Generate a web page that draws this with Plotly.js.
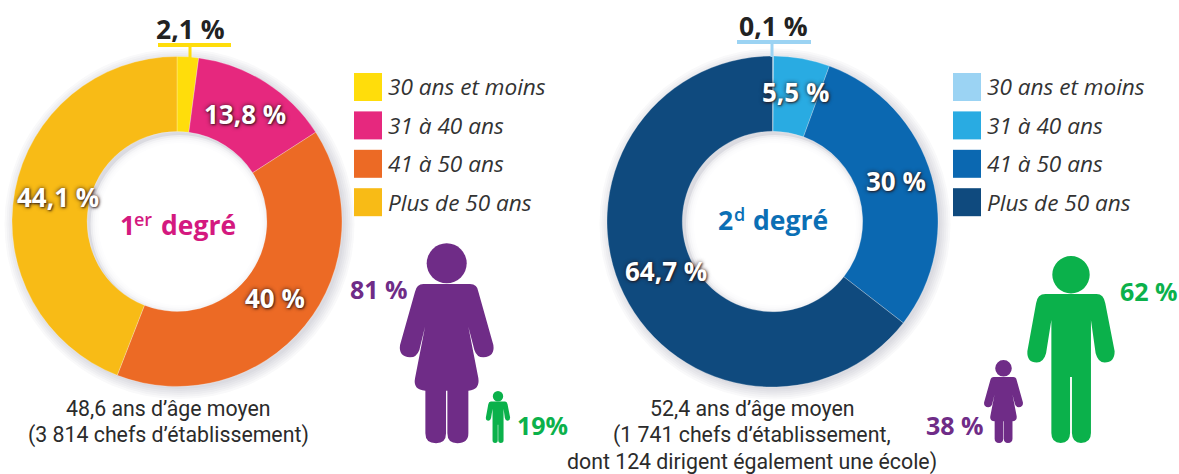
<!DOCTYPE html>
<html lang="fr">
<head>
<meta charset="utf-8">
<script src="https://cdn.plot.ly/plotly-3.0.1.min.js"></script>
<style>
html,body{margin:0;padding:0;background:#fff;overflow:hidden}
#chart{width:1179px;height:474px}
</style>
</head>
<body>
<div id="chart"></div>
<script>
const W = 1179, H = 474;
const ageGroups = ['30 ans et moins', '31 à 40 ans', '41 à 50 ans', 'Plus de 50 ans'];
const firstDegreeValues = [2.1, 13.8, 40, 44.1];
const secondDegreeValues = [0.1, 5.5, 30, 64.7];
const firstDegreeColors = ['#FFDD0B', '#E6287E', '#EC6A25', '#F8BB16'];
const secondDegreeColors = ['#9BD3F3', '#29ABE2', '#0B68B1', '#0F4A7E'];
const firstCaption = ['48,6 ans d’âge moyen', '(3 814 chefs d’établissement)'];
const secondCaption = ['52,4 ans d’âge moyen', '(1 741 chefs d’établissement,', 'dont 124 dirigent également une école)'];
const firstWomen = '81 %', firstMen = '19%';
const secondWomen = '38 %', secondMen = '62 %';
const PURPLE = '#6F2C87', GREEN = '#0BB14B';
const BOLD = '"Open Sans", "Noto Sans", sans-serif';
const TEXT = 'Roboto, "Noto Sans", sans-serif';

const fx = x => x / W;
const fy = y => 1 - y / H;
const pct = v => String(v).replace('.', ',') + ' %';

function pie(values, colors, left, top, size) {
  return {
    type: 'pie', values, labels: ageGroups, sort: false, direction: 'clockwise', rotation: 0,
    hole: 0.545, textinfo: 'none', hoverinfo: 'skip', showlegend: false,
    marker: {colors, line: {color: 'rgba(255,255,255,.5)', width: 0.5}},
    domain: {x: [fx(left), fx(left + size)], y: [fy(top + size), fy(top)]}
  };
}

const shapes = [], annotations = [];

function label(text, x, y, size, color, family, fontExtra, anchor) {
  annotations.push({
    text, x: fx(x), y: fy(y), xref: 'paper', yref: 'paper', showarrow: false,
    xanchor: anchor || 'center', yanchor: 'middle', borderpad: 0,
    font: Object.assign({size, color, family}, fontExtra || {})
  });
}
function rect(x0, y0, x1, y1, color) {
  shapes.push({type: 'rect', xref: 'paper', yref: 'paper', x0: fx(x0), x1: fx(x1), y0: fy(y1), y1: fy(y0),
    fillcolor: color, line: {width: 0}, layer: 'above'});
}
function disc(cx, cy, r, color) {
  shapes.push({type: 'circle', xref: 'paper', yref: 'paper',
    x0: fx(cx - r), x1: fx(cx + r), y0: fy(cy + r), y1: fy(cy - r),
    fillcolor: color, line: {width: 0}, layer: 'below'});
}
// Soft shadow of a ring: stacked translucent discs below the pie, cleared again inside the hole
function ringShadow(cx, cy, outer, inner) {
  [10, 8, 6, 4, 2, 0].forEach(d => disc(cx + 2.5, cy + 2.5, outer + d, 'rgba(50,40,55,.028)'));
  [0, 2, 4, 6].forEach(d => disc(cx + 2.5, cy + 2.5, inner - 1 - d, 'rgba(255,255,255,.5)'));
  disc(cx + 2.5, cy + 2.5, inner - 9, '#fff');
}

// Pictogram outlines, in the units of a figure 600 high, relative to the figure's axis
const womanOutline = [
 ['M',0,122],['L',70,122],['Q',92,122,95,145],['L',140,305],['Q',145,340,110,342],['Q',90,342,83,320],
 ['L',65,250],['L',95,405],['Q',100,440,65,442],['L',65,570],['Q',65,600,32,600],['Q',2,600,2,570],['L',2,442],
 ['L',-2,442],['L',-2,570],['Q',-2,600,-32,600],['Q',-64,600,-64,570],['L',-64,442],['Q',-102,440,-95,405],
 ['L',-65,250],['L',-82,320],['Q',-90,342,-110,342],['Q',-145,340,-140,305],['L',-95,145],['Q',-90,122,-70,122],['Z']
];
const manOutline = [
 ['M',-82,122],['L',82,122],['Q',105,122,110,152],['L',140,306],['Q',140,342,108,342],['Q',87,342,79,312],
 ['L',64,205],['L',64,568],['Q',64,600,32,600],['Q',4,600,3,568],['L',3,388],['L',-3,388],['L',-3,568],
 ['Q',-3,600,-33,600],['Q',-63,600,-63,568],['L',-63,205],['L',-80,312],['Q',-88,342,-110,342],
 ['Q',-142,342,-140,306],['L',-112,152],['Q',-108,122,-82,122],['Z']
];
function figure(outline, headR, headCy, cx, top, height, color) {
  const k = height / 600;
  const path = outline.map(seg => {
    let s = seg[0];
    for (let i = 1; i < seg.length; i += 2) {
      s += ' ' + fx(cx + seg[i] * k).toFixed(5) + ',' + fy(top + seg[i + 1] * k).toFixed(5);
    }
    return s;
  }).join(' ');
  shapes.push({type: 'path', xref: 'paper', yref: 'paper', path, fillcolor: color, line: {width: 0}, layer: 'above'});
  shapes.push({type: 'circle', xref: 'paper', yref: 'paper',
    x0: fx(cx - headR * k), x1: fx(cx + headR * k),
    y0: fy(top + (headCy + headR) * k), y1: fy(top + (headCy - headR) * k),
    fillcolor: color, line: {width: 0}, layer: 'above'});
}

ringShadow(177, 221.5, 165, 90);
ringShadow(772.5, 221.5, 165.5, 90);

// Legends
[[354, firstDegreeColors], [953, secondDegreeColors]].forEach(([x, colors]) => {
  ageGroups.forEach((name, i) => {
    const y = 73 + i * 38.4;
    rect(x, y, x + 28, y + 28, colors[i]);
    label('<i>' + name + '</i>', x + 33, y + 14, 22.6, '#333', BOLD, null, 'left');
  });
});

// Small-slice brackets
rect(158, 43, 231, 47, firstDegreeColors[0]);
rect(188.5, 46, 191.5, 58, firstDegreeColors[0]);
rect(737, 40, 811, 44, secondDegreeColors[0]);
rect(770.5, 43, 773.5, 57, secondDegreeColors[0]);

// Slice labels
const shadow = '0 0 4px rgba(40,20,20,.85), 1px 1px 2px rgba(40,20,20,.7)';
const strong = {weight: 700};
const halo = {weight: 700, shadow};
label(pct(firstDegreeValues[0]), 190, 29, 26.5, '#222', BOLD, strong);
label(pct(firstDegreeValues[1]), 245, 114, 26, '#fff', BOLD, halo);
label(pct(firstDegreeValues[2]), 275, 298, 26, '#fff', BOLD, halo);
label(pct(firstDegreeValues[3]), 58, 197, 26, '#fff', BOLD, halo);
label(pct(secondDegreeValues[0]), 773, 26, 26.5, '#222', BOLD, strong);
label(pct(secondDegreeValues[1]), 795, 92, 26, '#fff', BOLD, halo);
label(pct(secondDegreeValues[2]), 896, 181, 26, '#fff', BOLD, halo);
label(pct(secondDegreeValues[3]), 666, 271, 26, '#fff', BOLD, halo);

// Centre titles, each piece placed on its own so the superscript stays a real text
label('1', 127, 225, 26.5, '#D4197F', BOLD, strong);
label('er', 143, 219, 18, '#D4197F', BOLD, {weight: 600});
label('degré', 198, 225, 26.5, '#D4197F', BOLD, strong);
label('2', 725, 220, 26.5, '#0B6FB5', BOLD, strong);
label('d', 739, 214, 18, '#0B6FB5', BOLD, {weight: 600});
label('degré', 790, 220, 26.5, '#0B6FB5', BOLD, strong);

// Captions
firstCaption.forEach((t, i) => label(t, 168, 408 + i * 27, 21.3, '#2b2b2b', TEXT));
secondCaption.forEach((t, i) => label(t, 752, 408 + i * 27, 21.3, '#2b2b2b', TEXT));

// Pictograms and their shares
figure(womanOutline, 60, 60, 446.7, 243.3, 200, PURPLE);
figure(manOutline, 60, 60, 498, 391, 52, GREEN);
figure(womanOutline, 60, 60, 1003.5, 360, 83, PURPLE);
figure(manOutline, 60, 60, 1071, 256, 187, GREEN);
label(firstWomen, 379, 289, 25, PURPLE, BOLD, strong);
label(firstMen, 542, 425, 25, GREEN, BOLD, strong);
label(secondWomen, 955, 425, 25, PURPLE, BOLD, strong);
label(secondMen, 1149, 291, 25, GREEN, BOLD, strong);

const data = [
  pie(firstDegreeValues, firstDegreeColors, 12, 56.5, 330),
  pie(secondDegreeValues, secondDegreeColors, 607, 56, 331)
];
const layout = {
  width: W, height: H, margin: {l: 0, r: 0, t: 0, b: 0},
  paper_bgcolor: '#fff', plot_bgcolor: '#fff', showlegend: false,
  shapes, annotations
};
Plotly.newPlot('chart', data, layout, {displayModeBar: false, staticPlot: true});
</script>
</body>
</html>
